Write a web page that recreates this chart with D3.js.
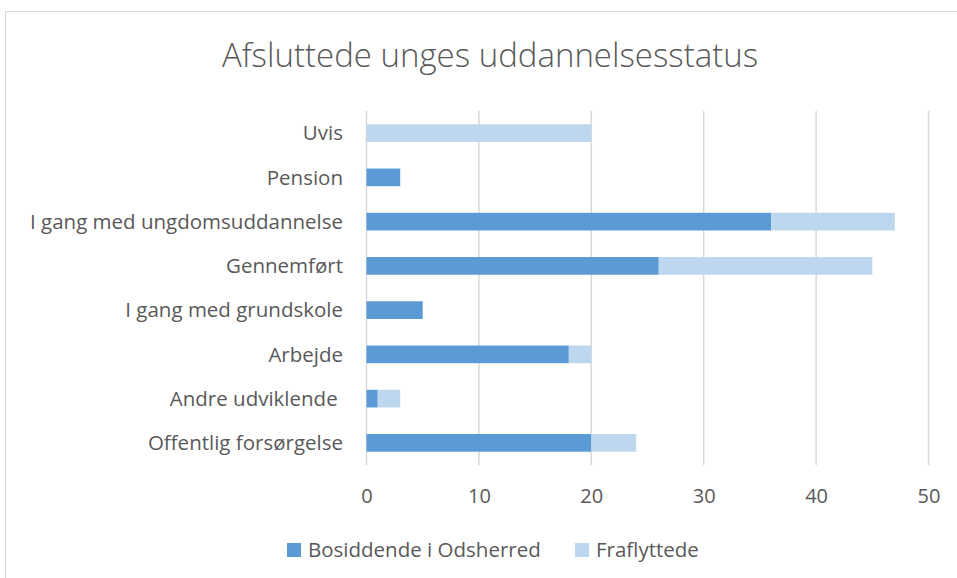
<!DOCTYPE html>
<html><head><meta charset="utf-8">
<script src="https://cdn.jsdelivr.net/npm/d3@7"></script>
<style>body{margin:0;background:#fff}svg{display:block}text{font-family:"Open Sans",sans-serif;fill:#595959;white-space:pre}</style>
</head><body>
<script>
const categories = ["Uvis","Pension","I gang med ungdomsuddannelse","Gennemført","I gang med grundskole","Arbejde","Andre udviklende ","Offentlig forsørgelse"];
const bosiddende = [0,3,36,26,5,18,1,20];
const fraflyttede = [20,0,11,19,0,2,2,4];
const seriesNames = ["Bosiddende i Odsherred","Fraflyttede"];
const xTicks = [0,10,20,30,40,50];
const colors = ["#5B9BD5","#BDD7EE"];

const W=957,H=578;
const svg=d3.select("body").append("svg").attr("width",W).attr("height",H);
svg.append("rect").attr("x",5.5).attr("y",11.5).attr("width",W+10).attr("height",H+10).attr("fill","none").attr("stroke","#D9D9D9").attr("stroke-width",1);

const x=d3.scaleLinear().domain([0,50]).range([366.5,928.5]);
const y=d3.scaleBand().domain(categories).range([111,465]).paddingInner(0.6).paddingOuter(0.3);

svg.append("text").attr("x",490).attr("y",67).attr("text-anchor","middle").style("font-size","33px").style("font-weight",300).text("Afsluttede unges uddannelsesstatus");

const g=svg.append("g");
g.selectAll("line.grid").data(xTicks).enter().append("line")
 .attr("x1",d=>x(d)).attr("x2",d=>x(d)).attr("y1",111).attr("y2",465)
 .attr("stroke","#D9D9D9").attr("stroke-width",1.5);

const stackData=categories.map((c,i)=>({c,a:bosiddende[i],b:fraflyttede[i]}));
const stack=d3.stack().keys(["a","b"])(stackData);
const band=y.bandwidth();
stack.forEach((s,si)=>{
  g.selectAll(null).data(s).enter().append("rect")
   .attr("x",d=>x(d[0])).attr("width",d=>x(d[1])-x(d[0]))
   .attr("y",d=>y(d.data.c)).attr("height",band)
   .attr("fill",colors[si]);
});

const xAxis=d3.axisBottom(x).tickValues(xTicks).tickSize(0).tickPadding(0);
const ax=svg.append("g").attr("transform","translate(0,465)").call(xAxis);
ax.select(".domain").remove();
ax.selectAll("text").attr("dy",null).attr("y",38).style("font-size","20px").style("fill","#595959");

const yAxis=d3.axisLeft(y).tickSize(0).tickPadding(0);
const ay=svg.append("g").attr("transform","translate(343,0)").call(yAxis);
ay.select(".domain").remove();
ay.selectAll("text").style("font-size","20.5px").style("fill","#595959").attr("dy","0.35em");

const leg=svg.append("g");
const legX=[287,575];
seriesNames.forEach((n,i)=>{
  leg.append("rect").attr("x",legX[i]).attr("y",543).attr("width",14).attr("height",14).attr("fill",colors[i]);
  leg.append("text").attr("x",legX[i]+21).attr("y",550).attr("dy","0.35em").style("font-size","20.5px").text(n);
});
</script>
</body></html>
